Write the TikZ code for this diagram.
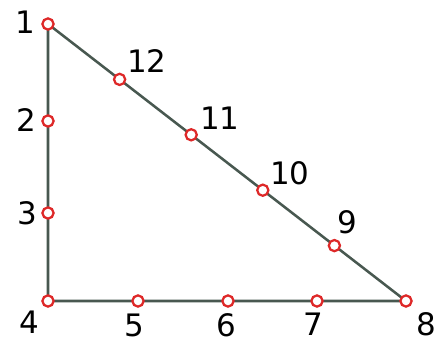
\documentclass[tikz,border=0pt]{standalone}
\usepackage{fontspec}
\setmainfont{DejaVu Sans}
\usepackage{tikz}
\usetikzlibrary{positioning,calc}
\definecolor{edgecol}{RGB}{72,88,80}
\definecolor{ptred}{RGB}{222,40,40}
\tikzset{
    pt/.style={circle,draw=ptred,fill=white,line width=1.6pt,minimum size=0.28cm,inner sep=0pt},
    num/.style={font=\fontsize{22}{24}\selectfont,text=black,inner sep=0pt}
}
\begin{document}
\begin{tikzpicture}[x=0.025cm,y=-0.025cm]
        \useasboundingbox (0,0) rectangle (443,342);

            % corner and side points
            \coordinate (p1) at (48,24);
            \coordinate (p2) at (48,121);
            \coordinate (p3) at (48,213);
            \coordinate (p4) at (48,301);
            \coordinate (p5) at (138,301);
            \coordinate (p6) at (228,301);
            \coordinate (p7) at (317,301);
            \coordinate (p8) at (406,301);
            \coordinate (p9) at ($(p1)!0.8!(p8)$);
            \coordinate (p10) at ($(p1)!0.6!(p8)$);
            \coordinate (p11) at ($(p1)!0.4!(p8)$);
            \coordinate (p12) at ($(p1)!0.2!(p8)$);

            \draw[edgecol,line width=1.8pt] (p1)--(p4)--(p8)--cycle;

            \foreach \i in {1,...,12}
                \node[pt] (n\i) at (p\i) {};

            \node[num] at (25,22) {1};
            \node[num] at (26,120) {2};
            \node[num] at (27,213) {3};
            \node[num] at (29,322) {4};
            \node[num] at (134,325) {5};
            \node[num] at (226,325) {6};
            \node[num] at (313,324) {7};
            \node[num] at (426,324) {8};
            \node[num] at (347,222) {9};
            \node[num] at (290,173) {10};
            \node[num] at (220,118) {11};
            \node[num] at (147,61) {12};
        \end{tikzpicture}
\end{document}
